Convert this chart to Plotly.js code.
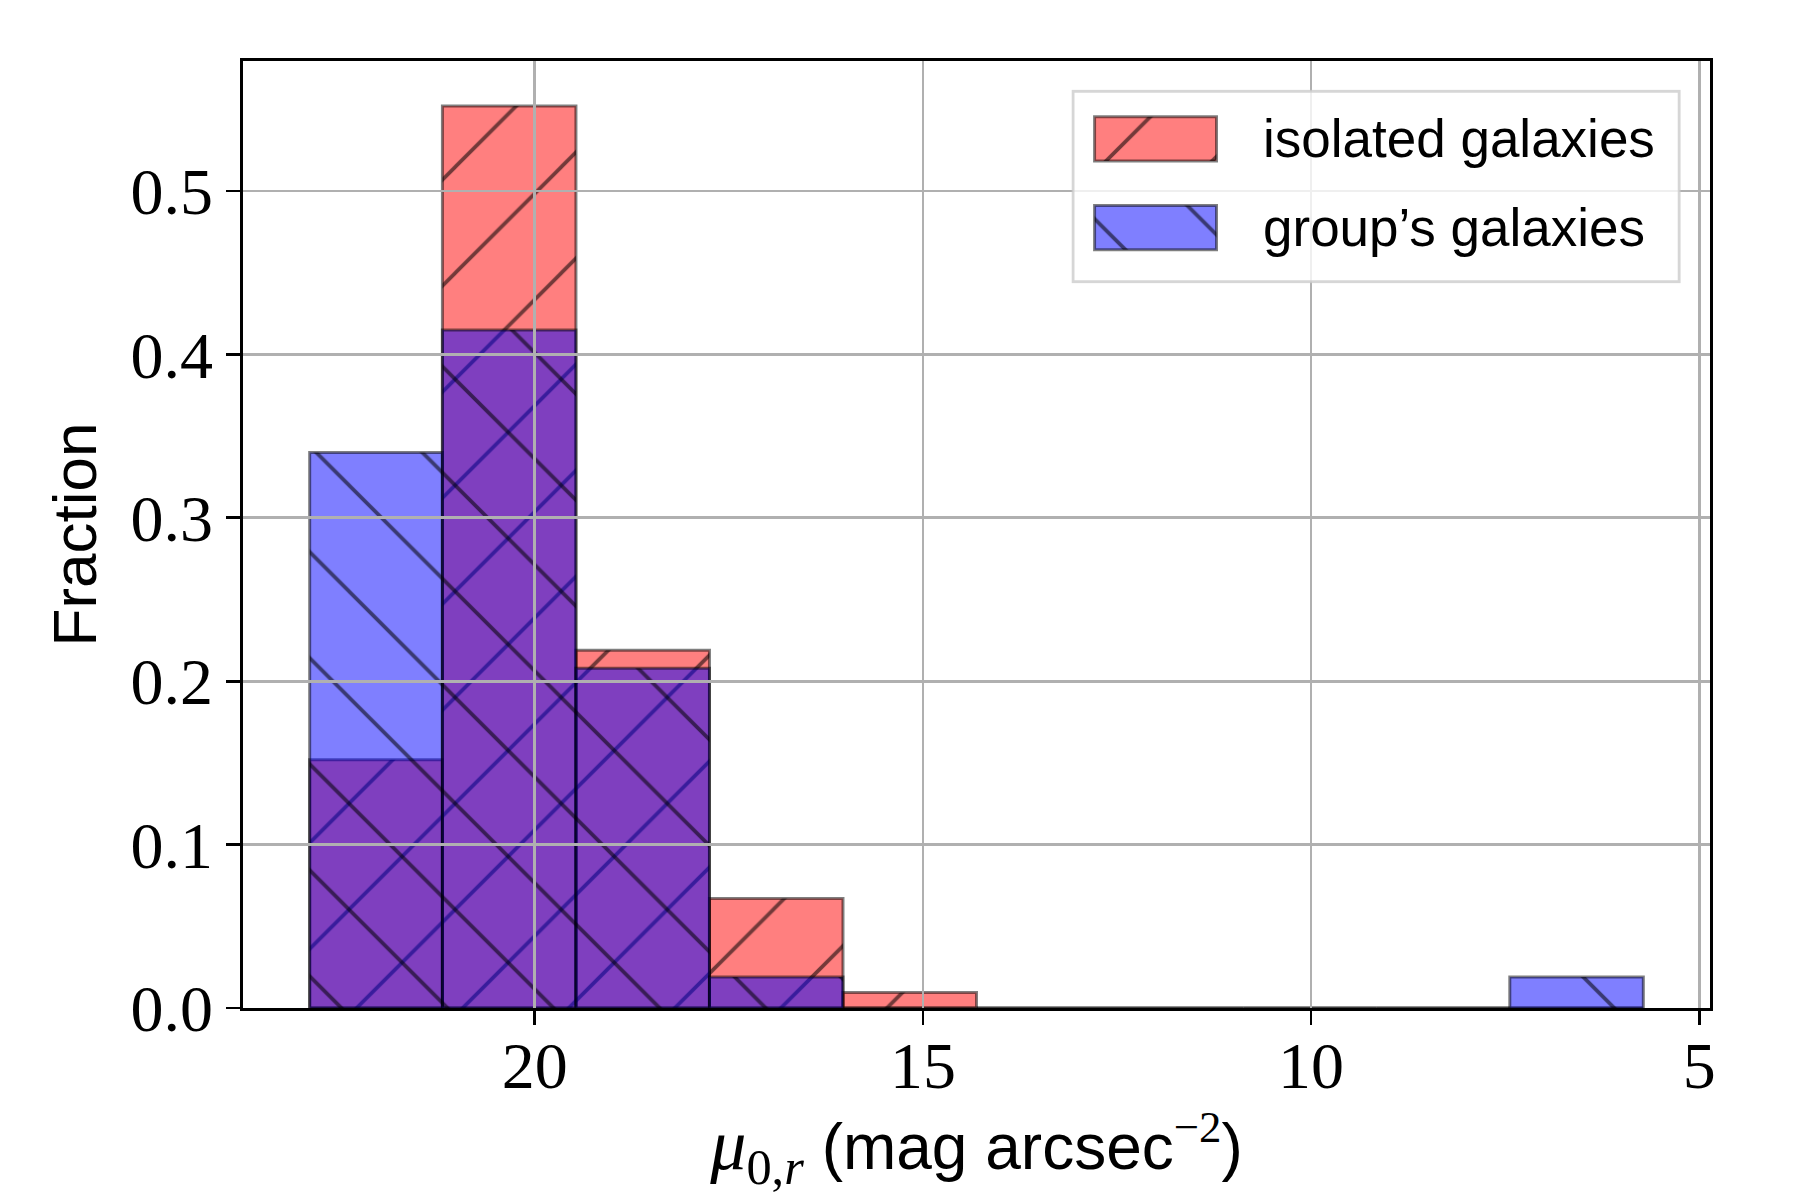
<!DOCTYPE html>
<html>
<head>
<meta charset="utf-8">
<script src="https://cdn.plot.ly/plotly-3.0.1.min.js"></script>
<style>html,body{margin:0;padding:0;background:#fff}#chart{width:1800px;height:1200px}</style>
</head>
<body>
<div id="chart"></div>
<script>
// ---- data ----
const binEdges = [22.90, 21.19, 19.47, 17.75, 16.03, 14.31, 12.59, 10.87, 9.16, 7.44, 5.72];
const isolatedFraction = [0.152, 0.552, 0.219, 0.067, 0.0095, 0, 0, 0, 0, 0];
const groupFraction = [0.340, 0.415, 0.208, 0.019, 0, 0, 0, 0, 0, 0.019];
const seriesNames = ['isolated galaxies', 'group\u2019s galaxies'];
const xTicks = [20, 15, 10, 5];
const yTicks = [0, 0.1, 0.2, 0.3, 0.4, 0.5];

// ---- styles ----
const SANS = '"Liberation Sans", Arial, sans-serif';
const SERIF = '"Liberation Serif", "DejaVu Serif", serif';
const EDGE = 'rgba(0,0,0,0.5)';
const seriesStyle = [
  {fill: 'rgba(255,0,0,0.5)', hatch: '/'},
  {fill: 'rgba(0,0,255,0.5)', hatch: '\\'}
];
function markerFor(s) {
  return {
    color: s.fill,
    line: {color: EDGE, width: 3},
    pattern: {shape: s.hatch, fillmode: 'overlay', bgcolor: s.fill, fgcolor: '#000000',
              fgopacity: 0.55, size: 75, solidity: 0.05}
  };
}

// ---- derived geometry through the axes ----
const centers = isolatedFraction.map((_, i) => (binEdges[i] + binEdges[i + 1]) / 2);
const widths = isolatedFraction.map((_, i) => Math.abs(binEdges[i] - binEdges[i + 1]));
const xMax = Math.max(...binEdges), xMin = Math.min(...binEdges);
const pad = 0.05 * (xMax - xMin);
const xRange = [xMax + pad, xMin - pad];
const yRange = [0, 1.05 * Math.max(...isolatedFraction, ...groupFraction)];

const allSeries = [isolatedFraction, groupFraction];
const traces = [];
allSeries.forEach((vals, k) => {
  traces.push({
    type: 'bar', x: centers, y: vals, width: widths, name: seriesNames[k],
    xaxis: 'x', yaxis: 'y', marker: markerFor(seriesStyle[k]),
    showlegend: false, hoverinfo: 'skip'
  });
});
// empty carrier so the grid subplot (drawn above the bars) exists
traces.push({type: 'scatter', mode: 'markers', x: [], y: [], xaxis: 'x2', yaxis: 'y2',
             showlegend: false, hoverinfo: 'skip'});
// legend swatches
seriesNames.forEach((nm, k) => {
  traces.push({
    type: 'bar', orientation: 'h', y: [nm], x: [1], base: 0, width: 0.5,
    xaxis: 'x3', yaxis: 'y3', marker: markerFor(seriesStyle[k]),
    showlegend: false, hoverinfo: 'skip'
  });
});

const xTitle = '<span style="font-family:Liberation Serif;font-size:72px"><i>\u03bc</i><sub>0,<i>r</i></sub></span> (mag arcsec<sup><span style="font-family:Liberation Serif">\u22122</span></sup>)';

const legX = [-0.190, 4.809];
const legY = [-0.632, 1.558];

const layout = {
  width: 1800, height: 1200,
  margin: {l: 243, r: 90, t: 61, b: 192},
  paper_bgcolor: '#ffffff', plot_bgcolor: 'rgba(0,0,0,0)',
  barmode: 'overlay', bargap: 0,
  showlegend: false,
  xaxis: {
    domain: [0, 1], range: xRange, tickvals: xTicks, ticks: 'outside', ticklen: 14, tickwidth: 2.7,
    tickcolor: '#000', showline: true, linecolor: '#000', linewidth: 2.7, mirror: true,
    showgrid: false, zeroline: false, layer: 'above traces', ticklabelstandoff: -16,
    tickfont: {family: SERIF, size: 66, color: '#000'},
    title: {text: xTitle, font: {family: SANS, size: 64, color: '#000'}, standoff: 20}
  },
  yaxis: {
    domain: [0, 1], range: yRange, tickvals: yTicks, tickformat: '.1f', ticks: 'outside', ticklen: 14,
    tickwidth: 2.7, tickcolor: '#000', showline: true, linecolor: '#000', linewidth: 2.7, mirror: true,
    showgrid: false, zeroline: false, layer: 'above traces',
    tickfont: {family: SERIF, size: 66, color: '#000'},
    title: {text: 'Fraction', font: {family: SANS, size: 62, color: '#000'}, standoff: 14}
  },
  xaxis2: {
    anchor: 'y2', domain: [0, 1], range: xRange, tickvals: xTicks, showgrid: true,
    gridcolor: '#b0b0b0', gridwidth: 2.8, showticklabels: false, ticks: '', showline: false, zeroline: false
  },
  yaxis2: {
    anchor: 'x2', domain: [0, 1], range: yRange, tickvals: yTicks.filter(v => v > 0), showgrid: true,
    gridcolor: '#b0b0b0', gridwidth: 2.8, showticklabels: false, ticks: '', showline: false, zeroline: false
  },
  xaxis3: {anchor: 'y3', domain: [0.5647, 0.9801], range: legX, visible: false},
  yaxis3: {anchor: 'x3', domain: [0.7651, 0.9698], range: legY, type: 'category',
           categoryorder: 'array', categoryarray: [seriesNames[1], seriesNames[0]], visible: false},
  shapes: [{
    type: 'rect', xref: 'x3', yref: 'y3', layer: 'between',
    x0: legX[0] + 0.013, x1: legX[1] - 0.013, y0: legY[0] + 0.018, y1: legY[1] - 0.018,
    fillcolor: 'rgba(255,255,255,0.8)', line: {color: 'rgba(204,204,204,0.8)', width: 3}
  }],
  annotations: seriesNames.map(nm => ({
    xref: 'x3', yref: 'y3', x: 1.367, y: nm, text: nm, showarrow: false,
    xanchor: 'left', yanchor: 'middle', font: {family: SANS, size: 53, color: '#000'}
  }))
};

Plotly.newPlot('chart', traces, layout, {displayModeBar: false, staticPlot: true});
</script>
</body>
</html>
